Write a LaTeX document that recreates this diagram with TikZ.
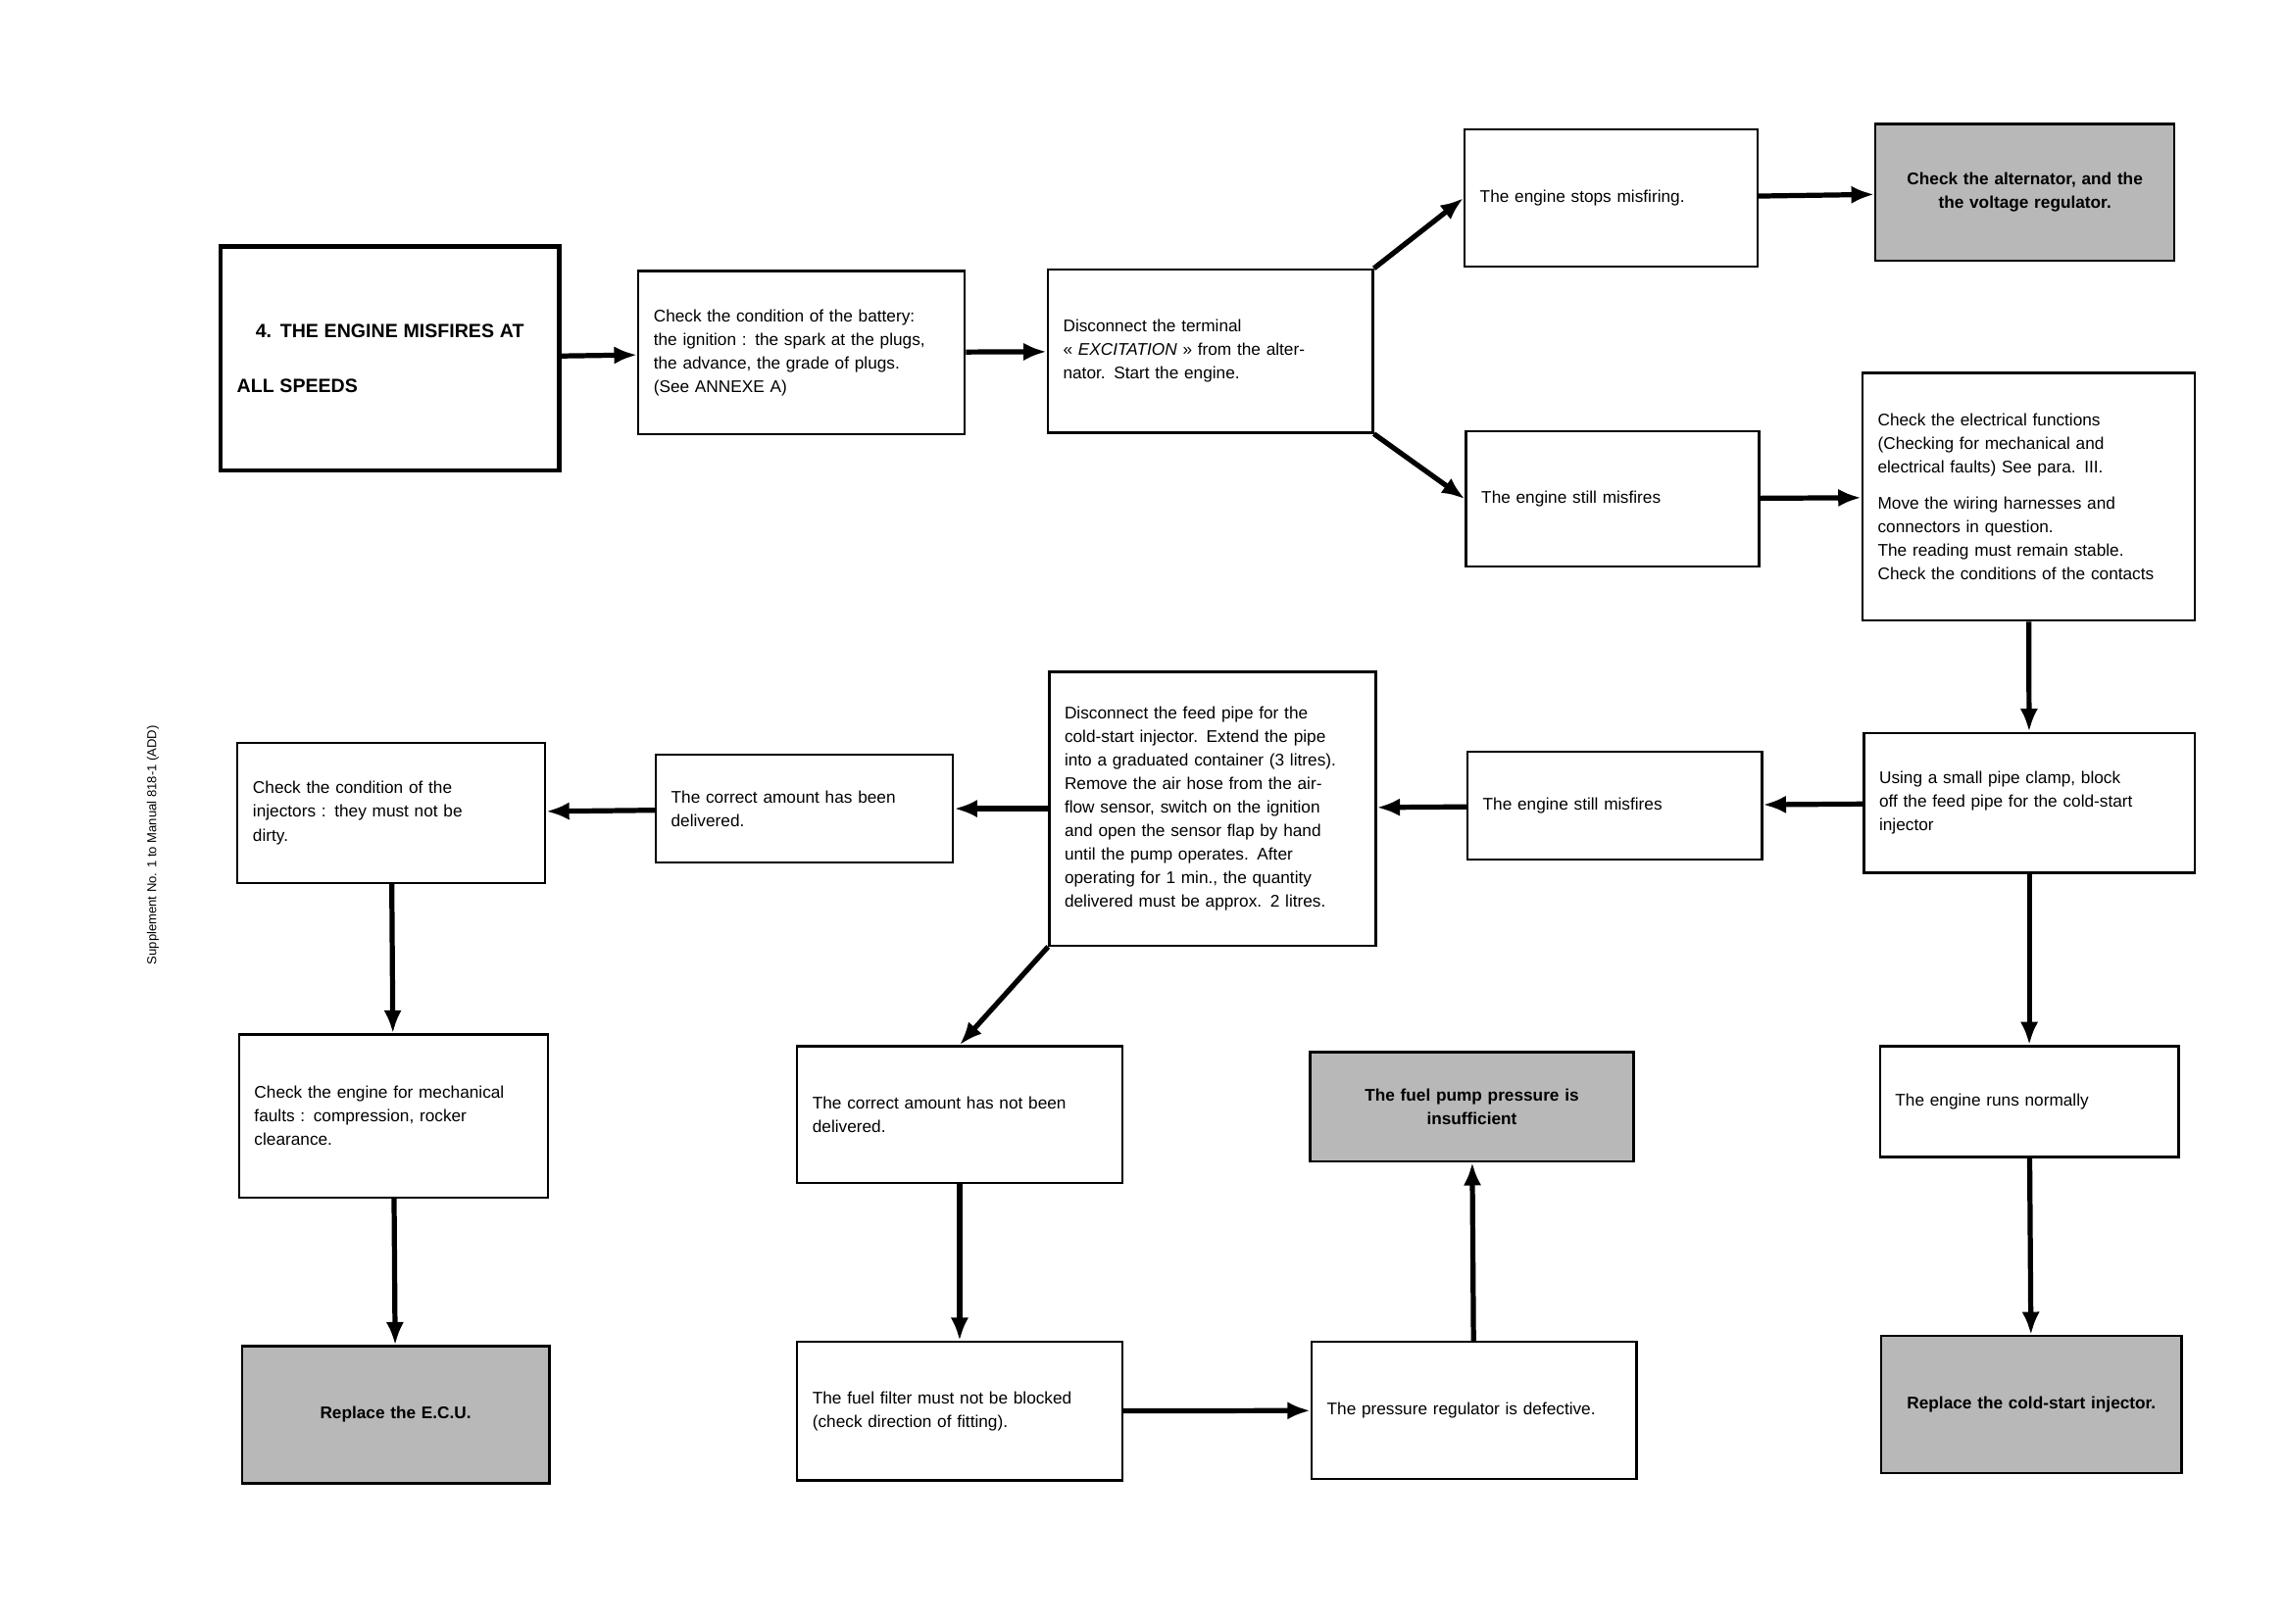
\documentclass[tikz,border=0pt]{standalone}
\usepackage{fontspec}
\setmainfont{Liberation Sans}
\usetikzlibrary{arrows.meta}
\begin{document}
\begin{tikzpicture}[x=0.02cm,y=-0.02cm,>={Latex[length=9pt,width=7pt]},
  box/.style={draw,line width=0.9pt,inner sep=5pt,align=left,font=\fontsize{6.6}{9.2}\selectfont},
  shade/.style={box,fill=black!28,align=center,font=\bfseries\fontsize{6.6}{9.2}\selectfont},
  go/.style={->,line width=2pt}]
\useasboundingbox (0,0) rectangle (1568,1114);
% boxes: centre, width, height from the sheet
\newcommand{\bx}[7][box]{\node[#1,minimum width=#4*0.02cm,minimum height=#5*0.02cm,text width=#4*0.02cm-12pt] (#6) at (#2,#3) {#7};}
\bx[box]{267.5}{246}{231}{152}{b1}{\centering\bfseries\fontsize{7.5}{10}\selectfont 4. THE ENGINE MISFIRES AT\\[12pt] ALL SPEEDS}
\draw[line width=1.6pt] (b1.north west) rectangle (b1.south east);
\bx{550}{242}{224}{112}{b2}{Check the condition of the battery:\\ the ignition : the spark at the plugs,\\ the advance, the grade of plugs.\\ (See ANNEXE A)}
\bx{830.5}{241}{223}{112}{b3}{Disconnect the terminal\\ « \textit{EXCITATION} » from the alter-\\ nator. Start the engine.}
\bx{1105.5}{136}{201}{94}{b4}{\centering The engine stops misfiring.}
\bx[shade]{1389.5}{132}{205}{94}{b5}{Check the alternator, and the\\ the voltage regulator.}
\bx{1106.5}{342.5}{201}{93}{b6}{\centering The engine still misfires}
\bx{1392}{341}{228}{170}{b7}{Check the electrical functions\\ (Checking for mechanical and\\ electrical faults) See para. III.\\[5pt] Move the wiring harnesses and\\ connectors in question.\\ The reading must remain stable.\\ Check the conditions of the contacts}
\bx{1392.5}{551}{227}{96}{b8}{Using a small pipe clamp, block\\ off the feed pipe for the cold-start\\ injector}
\bx{1108}{553}{202}{74}{b9}{\centering The engine still misfires}
\bx{832}{555}{224}{188}{b10}{Disconnect the feed pipe for the\\ cold-start injector. Extend the pipe\\ into a graduated container (3 litres).\\ Remove the air hose from the air-\\ flow sensor, switch on the ignition\\ and open the sensor flap by hand\\ until the pump operates. After\\ operating for 1 min., the quantity\\ delivered must be approx. 2 litres.}
\bx{552}{555}{204}{74}{b11}{The correct amount has been\\ delivered.}
\bx{268.5}{558}{211}{96}{b12}{Check the condition of the\\ injectors : they must not be\\ dirty.}
\bx{270}{766}{212}{112}{b13}{Check the engine for mechanical\\ faults : compression, rocker\\ clearance.}
\bx[shade]{271.5}{971}{211}{94}{b14}{Replace the E.C.U.}
\bx{658.5}{765}{223}{94}{b15}{The correct amount has not been\\ delivered.}
\bx{658.5}{968.5}{223}{95}{b16}{The fuel filter must not be blocked\\ (check direction of fitting).}
\bx[shade]{1010}{759.5}{222}{75}{b17}{The fuel pump pressure is\\ insufficient}
\bx{1011.5}{968}{223}{94}{b18}{\centering The pressure regulator is defective.}
\bx{1392.5}{756}{205}{76}{b19}{\centering The engine runs normally}
\bx[shade]{1394}{964}{206}{94}{b20}{Replace the cold-start injector.}
% connectors
\draw[go] (b1) -- (b2);
\draw[go] (b2) -- (b3);
\draw[go] (b3.north east) -- (b4.west);
\draw[go] (b3.south east) -- (b6.west);
\draw[go] (b4) -- (b5);
\draw[go] (b6) -- (b7);
\draw[go] (b7) -- (b8);
\draw[go] (b8) -- (b9);
\draw[go] (b9) -- (b10);
\draw[go] (b10) -- (b11);
\draw[go] (b11) -- (b12);
\draw[go] (b12) -- (b13);
\draw[go] (b13) -- (b14);
\draw[go] (b10.south west) -- (b15.north);
\draw[go] (b15) -- (b16);
\draw[go] (b16) -- (b18);
\draw[go] (b18) -- (b17);
\draw[go] (b8) -- (b19);
\draw[go] (b19) -- (b20);
\node[rotate=90,font=\fontsize{5}{6}\selectfont] (side) at (105,580) {Supplement No. 1 to Manual 818-1 (ADD)};
\end{tikzpicture}
\end{document}
